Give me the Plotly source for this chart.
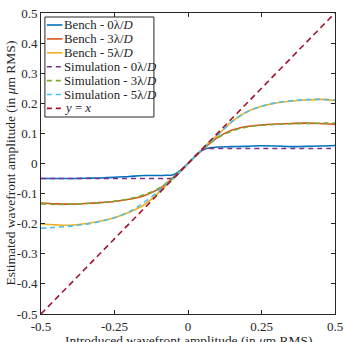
import plotly.graph_objects as go

x = [-0.5, -0.45, -0.4, -0.35, -0.3, -0.25, -0.2, -0.15, -0.1, -0.075, -0.05, -0.025, 0,
     0.025, 0.05, 0.075, 0.1, 0.15, 0.2, 0.25, 0.3, 0.35, 0.4, 0.45, 0.5]

bench0 = [-0.050, -0.050, -0.050, -0.049, -0.048, -0.046, -0.043, -0.040, -0.040, -0.039, -0.037, -0.022, 0.000,
          0.024, 0.045, 0.052, 0.055, 0.056, 0.057, 0.059, 0.058, 0.056, 0.057, 0.058, 0.060]
bench3 = [-0.131, -0.134, -0.135, -0.133, -0.130, -0.126, -0.119, -0.107, -0.085, -0.068, -0.047, -0.024, 0.000,
          0.024, 0.047, 0.068, 0.086, 0.111, 0.123, 0.128, 0.131, 0.133, 0.134, 0.133, 0.130]
bench5 = [-0.201, -0.204, -0.205, -0.200, -0.192, -0.180, -0.162, -0.138, -0.097, -0.074, -0.050, -0.025, 0.000,
          0.025, 0.050, 0.073, 0.094, 0.140, 0.172, 0.190, 0.201, 0.207, 0.211, 0.213, 0.209]
sim0 = [-0.050, -0.050, -0.050, -0.050, -0.050, -0.050, -0.050, -0.050, -0.050, -0.050, -0.048, -0.025, 0.000,
        0.025, 0.046, 0.050, 0.050, 0.050, 0.050, 0.050, 0.050, 0.050, 0.050, 0.050, 0.050]
sim3 = [-0.134, -0.136, -0.135, -0.133, -0.130, -0.125, -0.117, -0.104, -0.083, -0.066, -0.046, -0.024, 0.000,
        0.024, 0.046, 0.067, 0.085, 0.108, 0.121, 0.127, 0.130, 0.132, 0.133, 0.134, 0.134]
sim5 = [-0.215, -0.212, -0.208, -0.202, -0.193, -0.180, -0.160, -0.130, -0.092, -0.071, -0.049, -0.025, 0.000,
        0.025, 0.049, 0.072, 0.093, 0.139, 0.171, 0.190, 0.202, 0.208, 0.212, 0.213, 0.211]
ident_x = [-0.5, 0.5]
ident_y = [-0.5, 0.5]

names = ["Bench - 0λ/<i>D</i>", "Bench - 3λ/<i>D</i>", "Bench - 5λ/<i>D</i>",
         "Simulation - 0λ/<i>D</i>", "Simulation - 3λ/<i>D</i>", "Simulation - 5λ/<i>D</i>",
         "<i>y</i> = <i>x</i>"]
colors = ["#0072BD", "#D95319", "#EDB120", "#7E2F8E", "#77AC30", "#4DBEEE", "#A2142F"]

xticks = [-0.5, -0.25, 0, 0.25, 0.5]
xticklabels = ["-0.5", "-0.25", "0", "0.25", "0.5"]
yticks = [-0.5, -0.4, -0.3, -0.2, -0.1, 0, 0.1, 0.2, 0.3, 0.4, 0.5]
yticklabels = ["-0.5", "-0.4", "-0.3", "-0.2", "-0.1", "0", "0.1", "0.2", "0.3", "0.4", "0.5"]

FONT = "Liberation Serif"
INK = "#262626"
DASH = "5px,4px"

fig = go.Figure()
series = [bench0, bench3, bench5, sim0, sim3, sim5]
for i, ys in enumerate(series):
    fig.add_trace(go.Scatter(x=x, y=ys, mode="lines", name=names[i],
                             line=dict(color=colors[i], width=1.6, shape="spline",
                                       dash="solid" if i < 3 else DASH)))
fig.add_trace(go.Scatter(x=ident_x, y=ident_y, mode="lines", name=names[6],
                         line=dict(color=colors[6], width=1.6, dash="6px,4px")))

axis_common = dict(showgrid=False, zeroline=False, showline=True, linecolor=INK, linewidth=1,
                   mirror="ticks", ticks="inside", ticklen=4, tickcolor=INK,
                   ticklabeloverflow="allow",
                   tickfont=dict(family=FONT, size=13, color=INK))
fig.update_xaxes(range=[-0.5, 0.5], tickvals=xticks, ticktext=xticklabels, **axis_common)
fig.update_yaxes(range=[-0.5, 0.5], tickvals=yticks, ticktext=yticklabels, **axis_common)

# compact legend (pixel geometry converted to paper coords)
L, T, W, H = 41, 13, 302, 301
def px(v):
    return (v - L) / W
def py(v):
    return (T + H - v) / H

shapes = [dict(type="rect", xref="paper", yref="paper", x0=px(45), x1=px(157), y0=py(117), y1=py(17),
               line=dict(color=INK, width=1), fillcolor="white", layer="above")]
annotations = []
for i, nm in enumerate(names):
    yc = 25 + i * 13.9
    shapes.append(dict(type="line", xref="paper", yref="paper", x0=px(47), x1=px(63), y0=py(yc), y1=py(yc),
                       line=dict(color=colors[i], width=1.6, dash="solid" if i < 3 else DASH), layer="above"))
    annotations.append(dict(text=nm, x=px(64), y=py(yc), xref="paper", yref="paper", xanchor="left",
                            yanchor="middle", showarrow=False, borderpad=0,
                            font=dict(family=FONT, size=12.8, color=INK)))

annotations += [
    dict(text="Introduced wavefront amplitude (in <i>μ</i>m RMS)", x=0.5, y=0, xref="paper", yref="paper",
         xanchor="center", yanchor="top", yshift=-17, showarrow=False,
         font=dict(family=FONT, size=13.4, color=INK)),
    dict(text="Estimated wavefront amplitude (in <i>μ</i>m RMS)", x=0, y=0.5, xref="paper", yref="paper",
         xanchor="center", yanchor="middle", xshift=-31, textangle=-90, showarrow=False,
         font=dict(family=FONT, size=13.5, color=INK)),
]

fig.update_layout(
    width=348, height=342,
    margin=dict(l=41, r=5, t=13, b=28),
    paper_bgcolor="white", plot_bgcolor="white",
    font=dict(family=FONT, color=INK),
    showlegend=False,
    shapes=shapes,
    annotations=annotations,
)

fig.write_html("out.html")
